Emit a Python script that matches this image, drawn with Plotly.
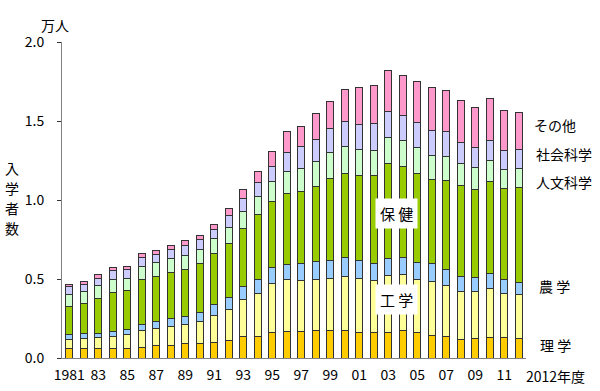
import plotly.graph_objects as go

years = list(range(1981, 2013))

rigaku   = [0.057,0.057,0.057,0.063,0.063,0.068,0.080,0.076,0.089,0.093,0.099,0.110,0.133,0.139,0.160,0.169,
            0.169,0.173,0.177,0.177,0.160,0.160,0.162,0.177,0.160,0.143,0.133,0.120,0.124,0.131,0.129,0.122]
kogaku   = [0.063,0.065,0.072,0.074,0.085,0.107,0.108,0.124,0.126,0.139,0.171,0.196,0.238,0.272,0.310,0.325,
            0.323,0.325,0.329,0.338,0.342,0.329,0.359,0.353,0.334,0.342,0.327,0.300,0.298,0.308,0.278,0.277]
nogaku   = [0.028,0.030,0.023,0.032,0.033,0.040,0.040,0.049,0.049,0.057,0.070,0.078,0.083,0.089,0.100,0.099,
            0.109,0.110,0.114,0.120,0.112,0.112,0.108,0.105,0.109,0.114,0.099,0.093,0.089,0.093,0.091,0.080]
hoken    = [0.179,0.194,0.226,0.245,0.245,0.283,0.291,0.291,0.295,0.308,0.320,0.342,0.367,0.407,0.419,0.447,
            0.450,0.478,0.519,0.534,0.540,0.553,0.601,0.574,0.566,0.528,0.565,0.576,0.554,0.584,0.574,0.603]
jinbun   = [0.078,0.072,0.080,0.080,0.080,0.082,0.084,0.089,0.091,0.089,0.095,0.103,0.105,0.116,0.129,0.139,
            0.151,0.157,0.161,0.169,0.167,0.162,0.165,0.169,0.162,0.154,0.154,0.143,0.138,0.131,0.118,0.118]
shakai   = [0.046,0.050,0.048,0.059,0.055,0.057,0.055,0.055,0.061,0.063,0.061,0.074,0.085,0.085,0.097,0.123,
            0.135,0.137,0.151,0.158,0.154,0.169,0.168,0.156,0.161,0.156,0.154,0.131,0.130,0.131,0.126,0.121]
sonota   = [0.017,0.019,0.021,0.017,0.019,0.025,0.021,0.029,0.032,0.027,0.032,0.042,0.054,0.073,0.089,0.130,
            0.131,0.169,0.173,0.204,0.234,0.237,0.256,0.257,0.261,0.274,0.258,0.264,0.253,0.265,0.249,0.234]

series = [
    ("理学", rigaku, "#FFCC00"),
    ("工学", kogaku, "#FFFF99"),
    ("農学", nogaku, "#99CCFF"),
    ("保健", hoken, "#99CC00"),
    ("人文科学", jinbun, "#CCFFCC"),
    ("社会科学", shakai, "#CCCCFF"),
    ("その他", sonota, "#FF99CC"),
]

tick_years = list(range(1981, 2012, 2))
tick_text = ["1981"] + [f"{y % 100:02d}" for y in tick_years[1:]]

FONT = "Noto Sans CJK JP"

fig = go.Figure()
for name, vals, col in series:
    fig.add_trace(go.Bar(x=years, y=vals, name=name, marker=dict(color=col, line=dict(color="#333333", width=1))))

L, R, T, B = 62, 526, 42, 358
def px(x): return (x - L) / (R - L)
def py(y): return (B - y) / (B - T)

ann = []
def add(text, x, y, size=14, bg=None, xanchor="center"):
    d = dict(text=text, x=px(x), y=py(y), xref="paper", yref="paper", showarrow=False,
             font=dict(family=FONT, size=size, color="black"), xanchor=xanchor, yanchor="middle")
    if bg:
        d["bgcolor"] = bg
        d["borderpad"] = 4
    ann.append(d)

add("万人", 55, 25)
for i, ch in enumerate("入学者数"):
    add(ch, 12, 168 + i * 20)
add("保 健", 396, 213, size=15, bg="white")
add("工 学", 396, 299, size=15, bg="white")
add("その他", 532, 125, xanchor="left")
add("社会科学", 534, 154, xanchor="left")
add("人文科学", 534, 182, xanchor="left")
add("農 学", 537, 286, xanchor="left")
add("理 学", 538, 345, xanchor="left")
add("2012年度", 524, 376, xanchor="left")

fig.update_layout(
    barmode="stack",
    bargap=0.5,
    width=600, height=391,
    margin=dict(l=L, r=600 - R, t=T, b=391 - B, pad=0, autoexpand=False),
    plot_bgcolor="white", paper_bgcolor="white",
    showlegend=False,
    font=dict(family=FONT, size=14, color="black"),
    annotations=ann,
    xaxis=dict(range=[1980.5, 2012.5], tickmode="array", tickvals=tick_years, ticktext=tick_text,
               showgrid=False, zeroline=False, showline=True, linecolor="#808080", linewidth=1,
               ticks="", ticklabelstandoff=4, automargin=False, tickfont=dict(family=FONT, size=14)),
    yaxis=dict(range=[0, 2.0], tickmode="array", tickvals=[0, 0.5, 1.0, 1.5, 2.0],
               ticktext=["0.0", "0.5", "1.0", "1.5", "2.0"],
               showgrid=False, zeroline=False, showline=True, linecolor="#808080", linewidth=1,
               ticks="outside", ticklen=4, tickcolor="#333333", ticklabelstandoff=10, automargin=False,
               tickfont=dict(family=FONT, size=14)),
)

fig.write_html("out.html", config={"displayModeBar": False},
               post_script="document.body.style.margin='0';document.body.style.padding='0';")
